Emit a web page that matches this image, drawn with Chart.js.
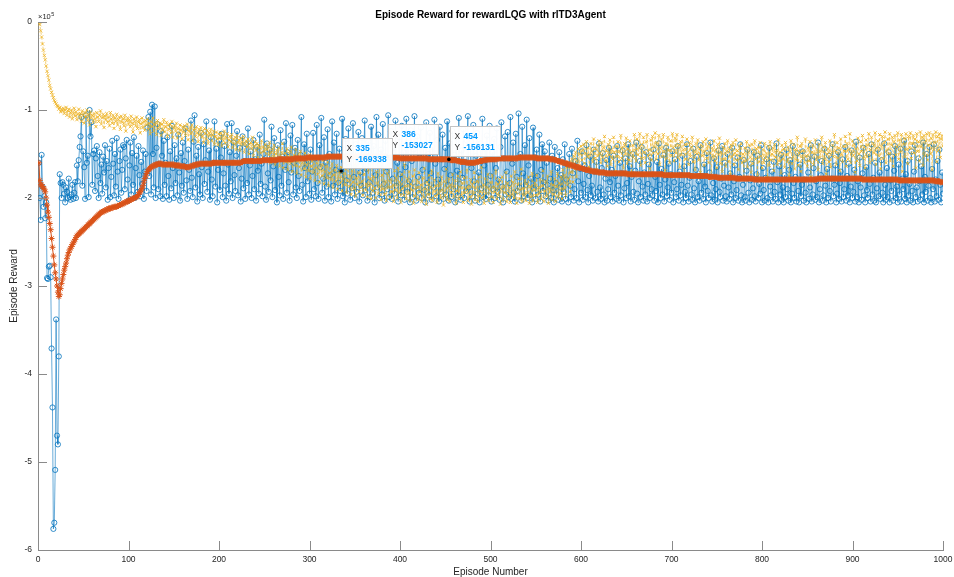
<!DOCTYPE html>
<html><head><meta charset="utf-8">
<script src="https://cdn.jsdelivr.net/npm/chart.js@4.4.1/dist/chart.umd.min.js"></script>
<style>html,body{margin:0;padding:0;background:#fff;overflow:hidden}canvas{display:block}</style>
</head><body>
<canvas id="c" width="954" height="577"></canvas>
<script>
// ---- data (values in thousands; episode i+1 at index i) ----
const SCALE = 1000;
const episodeRewardK = [
-160,-200,-225,-151,-187,-210,-198,-223,-205,-291,-292,-278,-277,-290,-371,-438,-576,-569,-509,-338,
-470,-480,-380,-173,-183,-200,-182,-185,-195,-205,-188,-193,-200,-178,-199,-202,-196,-185,-201,-194,
-182,-200,-163,-181,-157,-142,-130,-108,-186,-147,-165,-201,-106,-160,-152,-199,-100,-130,-114,-185,
-150,-146,-192,-155,-141,-175,-200,-148,-183,-162,-195,-153,-171,-140,-188,-158,-202,-166,-144,-199,
-176,-135,-161,-197,-150,-187,-132,-170,-201,-158,-145,-194,-168,-140,-142,-190,-155,-134,-179,-203,
-163,-137,-196,-149,-185,-131,-200,-166,-152,-193,-141,-174,-198,-159,-184,-146,-201,-170,-150,-192,
-120,-108,-175,-102,-196,-94,-150,-188,-96,-200,-143,-116,-190,-161,-198,-124,-152,-201,-135,-185,
-160,-198,-131,-175,-202,-147,-189,-118,-166,-200,-140,-183,-155,-197,-128,-171,-203,-149,-186,-137,
-194,-158,-121,-180,-201,-145,-168,-192,-112,-177,-199,-136,-106,-188,-152,-204,-142,-173,-196,-126,
-165,-200,-139,-184,-157,-113,-193,-170,-146,-202,-131,-179,-198,-160,-113,-187,-144,-205,-168,-135,
-191,-154,-127,-199,-172,-141,-186,-203,-116,-162,-195,-148,-181,-115,-200,-137,-174,-192,-152,-124,
-197,-166,-143,-204,-178,-130,-189,-158,-201,-139,-183,-121,-196,-163,-147,-200,-175,-134,-190,-156,
-203,-142,-169,-195,-128,-184,-161,-198,-150,-111,-187,-202,-138,-172,-193,-145,-180,-119,-199,-164,
-132,-191,-157,-205,-140,-176,-197,-123,-186,-153,-201,-136,-168,-115,-194,-148,-182,-203,-129,-171,
-117,-196,-160,-143,-188,-200,-134,-175,-192,-151,-108,-185,-204,-139,-166,-199,-127,-181,-158,-195,
-145,-202,-170,-126,-190,-155,-198,-117,-183,-201,-140,-165,-109,-194,-178,-131,-203,-160,-187,-122,
-199,-150,-174,-204,-113,-186,-137,-196,-168,-127,-201,-183,-144,-192,-169.338,-110,-198,-158,-205,-133,
-180,-195,-121,-164,-202,-147,-189,-115,-176,-200,-139,-193,-155,-125,-204,-171,-186,-132,-197,-149,
-112,-191,-167,-203,-136,-182,-199,-119,-157,-194,-141,-205,-174,-108,-188,-128,-200,-162,-145,-196,
-116,-184,-203,-135,-170,-190,-106,-199,-152,-124,-201,-178,-143,-195,-112,-186,-160,-204,-131,-173,
-197,-118,-189,-148,-202,-165,-110,-193,-137,-181,-205,-123,-158,-199,-145,-107,-187,-203,-130,-176,
-194,-154,-120,-200,-168,-139,-191,-205,-114,-183,-150,-197,-126,-172,-202,-142,-188,-111,-161,-198,
-134,-179,-204,-119,-193,-156,-128,-201,-167,-143,-196,-113,-185,-203,-138,-174,-199,-124,-190,-151,
-205,-131,-169,-197,-109,-184,-202,-146,-177,-122,-200,-159,-192,-135,-107,-188,-204,-141,-166,-198,
-117,-181,-203,-152,-126,-195,-171,-205,-138,-189,-110,-199,-163,-144,-201,-129,-185,-197,-118,-175,
-204,-148,-190,-133,-200,-166,-121,-193,-179,-202,-142,-114,-187,-205,-155,-130,-196,-170,-125,-199,
-183,-108,-201,-161,-137,-194,-204,-127,-176,-192,-104,-188,-150,-203,-119,-172,-198,-140,-185,-111,
-200,-163,-132,-197,-178,-205,-120,-189,-154,-201,-145,-175,-196,-128,-204,-168,-139,-192,-182,-147,
-198,-160,-185,-203,-137,-178,-200,-152,-191,-205,-142,-183,-196,-166,-202,-148,-188,-174,-204,-156,
-193,-139,-201,-179,-162,-205,-150,-186,-199,-144,-172,-203,-190,-158,-200,-135,-181,-205,-167,-194,
-147,-202,-184,-163,-199,-140,-191,-205,-175,-153,-197,-186,-203,-145,-170,-200,-159,-193,-204,-138,
-188,-201,-166,-149,-196,-205,-178,-157,-203,-190,-143,-182,-199,-168,-204,-152,-194,-175,-201,-141,
-186,-203,-160,-197,-172,-146,-205,-189,-155,-200,-183,-139,-198,-164,-204,-176,-150,-193,-202,-169,
-137,-195,-205,-181,-158,-199,-142,-187,-203,-171,-196,-148,-204,-184,-162,-200,-154,-190,-197,-145,
-203,-176,-192,-159,-205,-138,-185,-200,-167,-196,-151,-204,-179,-143,-198,-188,-161,-202,-173,-194,
-147,-205,-182,-156,-199,-190,-141,-203,-170,-197,-185,-152,-205,-164,-193,-200,-139,-186,-204,-177,
-158,-196,-202,-144,-189,-205,-168,-153,-199,-181,-203,-140,-194,-175,-201,-162,-187,-205,-149,-192,
-200,-171,-137,-197,-204,-183,-155,-202,-190,-165,-205,-146,-193,-199,-178,-141,-203,-186,-160,-198,
-204,-150,-188,-201,-172,-196,-143,-205,-181,-163,-200,-191,-154,-203,-176,-139,-197,-205,-185,-157,
-199,-203,-169,-145,-194,-205,-180,-161,-202,-189,-148,-198,-204,-173,-152,-200,-184,-195,-140,-205,
-166,-191,-203,-177,-156,-200,-205,-143,-187,-197,-170,-204,-159,-193,-201,-138,-182,-205,-164,-196,
-151,-202,-188,-205,-174,-199,-145,-190,-203,-168,-157,-205,-195,-141,-183,-200,-176,-204,-149,-192,
-205,-162,-198,-185,-147,-203,-179,-194,-205,-155,-171,-201,-188,-140,-204,-196,-166,-153,-202,-181,
-199,-137,-205,-190,-174,-158,-203,-197,-144,-186,-205,-167,-200,-152,-192,-204,-178,-139,-198,-185,
-163,-205,-195,-148,-201,-183,-170,-204,-156,-199,-190,-142,-203,-175,-197,-161,-205,-187,-146,-200,
-193,-168,-204,-136,-199,-181,-205,-154,-188,-202,-172,-143,-197,-205,-165,-191,-200,-150,-184,-204,
-139,-196,-177,-203,-160,-205,-189,-145,-198,-171,-201,-157,-194,-205,-138,-185,-202,-166,-199,-148,
-205,-180,-192,-153,-203,-169,-141,-200,-187,-205,-162,-196,-144,-204,-178,-190,-135,-201,-173,-205,
-158,-197,-184,-203,-147,-192,-205,-170,-140,-199,-188,-204,-155,-181,-202,-164,-196,-137,-205,-176,
-193,-150,-203,-186,-142,-200,-205,-167,-190,-139,-204,-179,-198,-158,-202,-145,-185,-205,-171,-195
];
const averageRewardK = [
-160,-180,-185,-185,-187,-189,-190,-193,-200,-208,-216,-222,-229,-236,-246,-256,-266,-276,-285,-292,
-300,-307,-312,-310,-303,-297,-292,-287,-282,-278,-274,-269,-265,-262,-259,-257,-255,-253,-251,-249,
-247,-245,-243,-242,-241,-240,-239,-238,-237,-236,-235,-234,-233,-232,-231,-230,-229,-228,-227,-226,
-225,-224,-223,-222,-221,-220,-219,-218,-217,-216,-216,-215,-215,-214,-214,-213,-213,-212,-212,-212,
-211,-211,-211,-210,-210,-210,-210,-209,-209,-208,-208,-207,-207,-206,-206,-205,-205,-204,-204,-203,
-203,-202,-202,-201,-201,-200,-200,-199,-199,-198,-196,-194,-193,-191,-189,-186,-182,-178,-175,-172,
-170,-168,-167,-166,-165,-164,-164,-163,-163,-162,-162,-162,-161,-161,-161,-161,-162,-162,-162,-162,
-162,-162,-162,-162,-162,-162,-162,-162,-162,-162,-163,-163,-163,-163,-163,-163,-164,-164,-164,-164,
-164,-164,-165,-165,-165,-165,-165,-164,-164,-164,-163,-163,-163,-162,-162,-162,-162,-161,-161,-161,
-161,-161,-161,-161,-161,-161,-161,-161,-161,-161,-161,-161,-160,-160,-160,-160,-160,-160,-160,-160,
-160,-160,-160,-160,-160,-160,-160,-160,-160,-160,-160,-160,-160,-160,-160,-160,-160,-160,-160,-160,
-160,-160,-160,-160,-159,-159,-158,-158,-158,-158,-158,-158,-158,-158,-158,-158,-158,-158,-158,-158,
-158,-158,-158,-158,-158,-158,-158,-157,-157,-157,-157,-157,-157,-157,-157,-157,-157,-157,-157,-157,
-157,-157,-157,-157,-156,-156,-156,-156,-156,-156,-156,-156,-156,-156,-156,-156,-156,-156,-156,-156,
-156,-156,-155,-155,-155,-155,-155,-155,-155,-155,-155,-155,-155,-155,-155,-155,-154,-154,-154,-154,
-154,-154,-154,-154,-154,-154,-154,-154,-154,-154,-154,-154,-154,-154,-154,-154,-154,-154,-153,-153,
-153,-153,-153,-153,-153,-153,-153,-153,-153,-153,-153,-153,-153,-153,-153,-153,-153,-153,-153,-153,
-153,-153,-153,-153,-153,-153,-153,-153,-153,-153,-153,-153,-153,-153,-153,-153,-153,-153,-153,-153,
-153,-153,-153,-153,-153,-153,-153,-153,-153,-153,-153,-153,-153,-153,-153,-153,-153,-153,-153,-153,
-153,-153,-153,-153,-153,-153.027,-153,-153,-154,-154,-154,-154,-154,-154,-154,-154,-154,-154,-155,-155,
-155,-155,-155,-155,-155,-155,-155,-155,-155,-155,-155,-155,-155,-155,-155,-155,-155,-155,-155,-155,
-155,-155,-155,-155,-155,-155,-155,-155,-155,-155,-156,-156,-156,-156,-156,-156,-156,-156,-156,-156,
-156,-156,-156,-156,-156,-156,-156,-156,-156,-156,-156,-156,-156,-156.131,-156,-157,-157,-157,-157,-157,
-157,-157,-158,-158,-158,-158,-159,-159,-159,-159,-159,-159,-160,-160,-160,-160,-160,-160,-160,-160,
-160,-160,-160,-159,-159,-159,-159,-158,-158,-158,-158,-157,-157,-157,-157,-157,-156,-156,-156,-156,
-156,-156,-156,-156,-156,-156,-156,-155,-155,-155,-155,-155,-155,-155,-155,-155,-155,-155,-155,-155,
-155,-155,-155,-155,-155,-155,-155,-155,-155,-155,-154,-154,-154,-154,-154,-154,-154,-154,-154,-154,
-154,-154,-154,-154,-154,-154,-154,-154,-154,-154,-155,-155,-155,-155,-155,-155,-155,-155,-155,-155,
-155,-155,-155,-155,-155,-156,-156,-156,-156,-156,-157,-157,-157,-158,-158,-158,-159,-159,-159,-160,
-160,-160,-161,-161,-161,-162,-162,-162,-163,-163,-163,-164,-164,-164,-165,-165,-165,-166,-166,-166,
-166,-167,-167,-167,-168,-168,-168,-168,-169,-169,-169,-169,-170,-170,-170,-170,-170,-170,-171,-171,
-171,-171,-171,-171,-171,-171,-172,-172,-172,-172,-172,-172,-172,-172,-172,-172,-172,-172,-172,-172,
-172,-172,-172,-172,-172,-172,-172,-172,-172,-172,-173,-173,-173,-173,-173,-173,-173,-173,-173,-173,
-173,-173,-173,-173,-173,-173,-173,-173,-173,-173,-173,-173,-173,-173,-173,-173,-173,-173,-173,-173,
-173,-173,-173,-173,-173,-173,-173,-173,-173,-173,-174,-174,-174,-174,-174,-174,-174,-174,-174,-174,
-174,-174,-174,-174,-174,-174,-174,-174,-174,-174,-174,-174,-174,-174,-174,-174,-174,-174,-174,-174,
-175,-175,-175,-175,-175,-175,-175,-175,-175,-175,-175,-175,-175,-175,-175,-175,-175,-175,-175,-175,
-176,-176,-176,-176,-176,-176,-176,-176,-176,-176,-177,-177,-177,-177,-177,-177,-177,-177,-177,-177,
-177,-177,-177,-177,-177,-177,-177,-177,-177,-177,-178,-178,-178,-178,-178,-178,-178,-178,-178,-178,
-178,-178,-178,-178,-178,-178,-178,-178,-178,-178,-179,-179,-179,-179,-179,-179,-179,-179,-179,-179,
-179,-179,-179,-179,-179,-179,-179,-179,-179,-179,-179,-179,-179,-179,-179,-179,-179,-179,-179,-179,
-179,-179,-179,-179,-179,-179,-179,-179,-179,-179,-179,-179,-179,-179,-179,-179,-179,-179,-179,-179,
-179,-179,-179,-179,-179,-179,-179,-179,-179,-179,-179,-179,-179,-179,-179,-179,-179,-179,-179,-179,
-178,-178,-178,-178,-178,-178,-178,-178,-178,-178,-178,-178,-178,-178,-178,-178,-178,-178,-178,-178,
-178,-178,-178,-178,-178,-178,-178,-178,-178,-178,-178,-178,-178,-178,-178,-178,-178,-178,-178,-178,
-178,-178,-178,-178,-178,-178,-178,-178,-178,-178,-179,-179,-179,-179,-179,-179,-179,-179,-179,-179,
-179,-179,-179,-179,-179,-179,-179,-179,-179,-179,-179,-179,-179,-179,-179,-179,-179,-179,-179,-179,
-179,-179,-179,-179,-179,-179,-179,-179,-179,-179,-180,-180,-180,-180,-180,-180,-180,-180,-180,-180,
-180,-180,-180,-180,-180,-180,-180,-180,-180,-180,-180,-180,-180,-180,-180,-180,-180,-180,-180,-180,
-180,-180,-180,-180,-180,-180,-180,-180,-180,-180,-181,-181,-181,-181,-181,-181,-182,-182,-182,-182
];
const episodeQ0K = [
0,-3,-10,-17,-25,-32,-38,-43,-50,-56,-61,-66,-72,-76,-80,-83,-86,-89,-91,-93,
-95,-96,-99,-97,-102,-99,-101,-98,-104,-100,-97,-106,-101,-99,-108,-103,-100,-110,-104,-98,
-107,-102,-111,-105,-99,-109,-104,-113,-101,-106,-115,-103,-108,-100,-112,-105,-117,-102,-109,-106,
-114,-104,-110,-119,-103,-108,-113,-106,-101,-116,-109,-105,-120,-107,-111,-104,-114,-108,-118,-103,
-110,-115,-106,-121,-109,-113,-105,-117,-111,-108,-122,-107,-114,-110,-118,-106,-124,-112,-109,-116,
-111,-119,-107,-115,-125,-110,-113,-118,-108,-121,-114,-111,-126,-116,-109,-120,-113,-123,-112,-117,
-110,-122,-115,-127,-113,-119,-109,-124,-117,-114,-128,-112,-121,-118,-115,-129,-116,-123,-111,-125,
-119,-114,-130,-117,-122,-116,-126,-113,-131,-120,-118,-124,-115,-132,-121,-127,-117,-123,-133,-119,
-125,-118,-129,-122,-116,-134,-124,-120,-127,-117,-135,-123,-121,-130,-119,-126,-136,-122,-128,-120,
-131,-124,-137,-121,-127,-133,-123,-138,-126,-129,-122,-135,-128,-124,-139,-130,-125,-133,-140,-127,
-132,-126,-141,-129,-135,-124,-138,-131,-127,-142,-134,-130,-136,-128,-143,-133,-139,-131,-145,-129,
-137,-134,-146,-132,-140,-136,-130,-148,-138,-135,-142,-133,-150,-139,-137,-144,-131,-152,-141,-136,
-146,-138,-154,-140,-143,-149,-135,-156,-142,-147,-139,-158,-145,-141,-151,-137,-160,-148,-144,-153,
-140,-162,-150,-146,-157,-143,-164,-152,-148,-138,-166,-155,-149,-159,-144,-168,-153,-147,-161,-142,
-170,-156,-151,-163,-145,-172,-158,-150,-165,-147,-174,-160,-154,-167,-149,-176,-162,-156,-169,-151,
-178,-164,-158,-171,-153,-180,-166,-160,-173,-155,-182,-168,-162,-175,-157,-184,-170,-164,-177,-159,
-186,-172,-166,-179,-161,-188,-174,-168,-181,-163,-190,-176,-170,-183,-165,-192,-178,-172,-185,-167,
-194,-180,-158,-187,-175,-196,-169,-182,-190,-162,-198,-177,-185,-171,-193,-160,-188,-181,-197,-173,
-165,-191,-184,-199,-168,-186,-178,-201,-163,-192,-176,-189,-200,-170,-183,-195,-161,-187,-202,-174,
-190,-167,-196,-181,-203,-172,-188,-164,-199,-179,-193,-185,-204,-169,-191,-177,-200,-166,-194,-182,
-205,-173,-189,-197,-162,-186,-201,-178,-195,-170,-203,-184,-191,-175,-206,-168,-198,-188,-180,-202,
-171,-193,-185,-204,-177,-199,-166,-190,-207,-182,-196,-174,-201,-187,-169,-203,-192,-179,-198,-186,
-205,-172,-195,-183,-200,-176,-191,-208,-181,-197,-167,-202,-189,-178,-204,-185,-194,-173,-199,-187,
-180,-206,-192,-175,-201,-188,-170,-197,-183,-205,-177,-194,-190,-168,-203,-186,-199,-179,-207,-184,
-196,-171,-202,-189,-181,-204,-176,-198,-193,-165,-200,-185,-206,-178,-195,-188,-173,-203,-191,-182,
-199,-174,-205,-187,-193,-169,-201,-184,-197,-179,-207,-190,-176,-202,-186,-194,-171,-204,-183,-198,
-188,-205,-175,-196,-182,-200,-170,-193,-206,-185,-178,-201,-191,-167,-204,-189,-197,-180,-203,-184,
-194,-176,-206,-187,-199,-172,-203,-190,-183,-197,-174,-205,-188,-195,-179,-201,-186,-169,-204,-192,
-181,-198,-175,-206,-189,-193,-170,-202,-185,-196,-178,-204,-187,-172,-199,-183,-195,-176,-201,-168,
-190,-174,-197,-165,-185,-179,-160,-193,-171,-156,-182,-152,-167,-148,-176,-158,-144,-163,-150,-141,
-157,-146,-139,-161,-149,-136,-153,-143,-165,-151,-138,-147,-159,-133,-155,-144,-168,-140,-152,-135,
-149,-160,-137,-154,-143,-130,-158,-146,-164,-139,-151,-134,-162,-145,-156,-131,-148,-170,-141,-153,
-136,-159,-147,-129,-155,-142,-166,-138,-150,-132,-161,-144,-157,-135,-149,-172,-140,-154,-128,-146,
-158,-133,-151,-143,-127,-163,-139,-155,-131,-148,-160,-136,-128,-152,-145,-167,-134,-157,-130,-149,
-141,-126,-156,-137,-150,-129,-162,-144,-133,-153,-128,-147,-169,-138,-155,-131,-146,-160,-135,-152,
-127,-143,-158,-132,-149,-128,-154,-140,-165,-136,-151,-130,-145,-174,-139,-156,-133,-148,-162,-137,
-153,-142,-131,-159,-146,-168,-138,-150,-134,-157,-144,-171,-140,-152,-136,-163,-147,-133,-155,-141,
-160,-137,-149,-176,-143,-154,-135,-158,-145,-166,-139,-151,-132,-161,-148,-170,-142,-156,-138,-164,
-147,-135,-159,-144,-173,-140,-153,-137,-162,-149,-134,-157,-146,-168,-141,-155,-138,-160,-150,-178,
-143,-158,-136,-165,-148,-140,-154,-171,-139,-161,-147,-135,-156,-144,-174,-142,-159,-137,-152,-166,
-145,-160,-138,-155,-149,-177,-141,-163,-136,-157,-150,-143,-169,-139,-154,-146,-162,-134,-158,-148,
-172,-140,-156,-144,-165,-137,-151,-159,-142,-175,-147,-135,-161,-153,-139,-167,-145,-157,-131,-163,
-149,-141,-170,-138,-155,-146,-160,-133,-152,-164,-143,-158,-136,-176,-148,-140,-162,-150,-134,-157,
-145,-168,-139,-154,-147,-131,-161,-142,-156,-137,-173,-150,-144,-159,-135,-165,-148,-140,-153,-128,
-146,-162,-137,-155,-143,-169,-133,-151,-159,-141,-147,-130,-164,-138,-156,-145,-127,-160,-149,-135,
-152,-139,-171,-144,-158,-132,-150,-163,-136,-147,-129,-155,-142,-166,-134,-153,-140,-127,-160,-145,
-131,-157,-138,-149,-126,-162,-143,-135,-152,-128,-167,-141,-130,-155,-137,-125,-160,-146,-133,-150,
-127,-158,-140,-131,-164,-136,-129,-151,-142,-126,-156,-134,-148,-128,-170,-139,-132,-153,-127,-145,
-161,-130,-143,-126,-155,-138,-129,-149,-133,-166,-127,-147,-136,-158,-125,-142,-131,-163,-129,-152,
-135,-127,-157,-140,-126,-150,-132,-168,-128,-145,-137,-125,-159,-130,-146,-127,-154,-133,-129,-141
];
const xTickValues = [0,100,200,300,400,500,600,700,800,900,1000];
const yTickValues = [0,-1,-2,-3,-4,-5,-6];          // shown with ×10^5
const yExponent = 5;
const tipEpisodes = [335,386,454];
const tipSeries = ['reward','average','average'];
const titleText = 'Episode Reward for rewardLQG with rlTD3Agent';
const xLabel = 'Episode Number';
const yLabel = 'Episode Reward';

// ---- build ----
const FONT = "'Liberation Sans', Arial, Helvetica, sans-serif";
const AXIS = '#8a8a8a';
const TXT = '#262626';
const EXP = Math.pow(10, yExponent);
const episodes = episodeRewardK.map((_, i) => i + 1);
const toPts = arr => arr.map((v, i) => ({x: episodes[i], y: v * SCALE}));
const seriesMap = {reward: episodeRewardK, average: averageRewardK, q0: episodeQ0K};

const decor = {
  id: 'decor',
  afterDraw(chart) {
    const {ctx, chartArea: a, scales: {x, y}} = chart;
    ctx.save();
    // inward tick marks
    ctx.strokeStyle = AXIS; ctx.lineWidth = 1;
    ctx.beginPath();
    x.ticks.forEach(t => { const px = Math.round(x.getPixelForValue(t.value)) + 0.5; ctx.moveTo(px, a.bottom); ctx.lineTo(px, a.bottom - 9); });
    y.ticks.forEach(t => { const py = Math.round(y.getPixelForValue(t.value)) + 0.5; ctx.moveTo(a.left, py); ctx.lineTo(a.left + 9, py); });
    ctx.stroke();
    // exponent label
    ctx.fillStyle = TXT; ctx.textBaseline = 'middle'; ctx.textAlign = 'left';
    ctx.font = '7.5px ' + FONT;
    ctx.fillText('\u00d710', a.left, a.top - 5);
    const w = ctx.measureText('\u00d710').width;
    ctx.font = '5.5px ' + FONT;
    ctx.fillText(String(yExponent), a.left + w + 0.5, a.top - 8);
    // data tips (last one drawn first so earlier tips sit on top)
    for (let k = tipEpisodes.length - 1; k >= 0; k--) {
      const ep = tipEpisodes[k];
      const v = seriesMap[tipSeries[k]][ep - 1] * SCALE;
      const px = x.getPixelForValue(ep), py = y.getPixelForValue(v);
      const bx = Math.round(px) + 1.5, by = Math.round(py) - 32.5, bw = 50, bh = 30;
      ctx.fillStyle = 'rgba(255,255,255,0.97)';
      ctx.fillRect(bx, by, bw, bh);
      ctx.strokeStyle = '#c4c4c4'; ctx.lineWidth = 1;
      ctx.strokeRect(bx, by, bw, bh);
      ctx.textBaseline = 'middle'; ctx.textAlign = 'left';
      ctx.font = '8.5px ' + FONT; ctx.fillStyle = '#333';
      ctx.fillText('X', bx + 4, by + 10);
      ctx.fillText('Y', bx + 4, by + 21.5);
      ctx.font = 'bold 8.5px ' + FONT; ctx.fillStyle = '#0099ff';
      ctx.fillText(String(ep), bx + 13, by + 10);
      ctx.fillText(String(Math.round(v)), bx + 13, by + 21.5);
      ctx.fillStyle = '#000';
      ctx.beginPath(); ctx.arc(px, py, 1.8, 0, Math.PI * 2); ctx.fill();
    }
    ctx.restore();
  }
};

new Chart(document.getElementById('c'), {
  type: 'line',
  data: {
    datasets: [
      {label: 'Average Reward', data: toPts(averageRewardK), order: 0,
       borderColor: '#D95319', borderWidth: 1, pointStyle: 'star', pointRadius: 3,
       pointBorderWidth: 1, pointBorderColor: '#D95319', pointBackgroundColor: '#D95319'},
      {label: 'Episode Q0', data: toPts(episodeQ0K), order: 1,
       borderColor: '#EDB120', borderWidth: 0.6, borderDash: [3, 2], pointStyle: 'crossRot', pointRadius: 2.3,
       pointBorderWidth: 0.8, pointBorderColor: '#EDB120', pointBackgroundColor: '#EDB120'},
      {label: 'Episode Reward', data: toPts(episodeRewardK), order: 2,
       borderColor: '#0072BD', borderWidth: 0.6, pointStyle: 'circle', pointRadius: 2.6,
       pointBorderWidth: 0.8, pointBorderColor: '#0072BD', pointBackgroundColor: 'rgba(0,0,0,0)'}
    ]
  },
  options: {
    responsive: false, animation: false, devicePixelRatio: 1,
    layout: {padding: {left: 0, right: 11, top: 0, bottom: 0}},
    elements: {line: {tension: 0}},
    plugins: {
      legend: {display: false}, tooltip: {enabled: false},
      title: {display: true, text: titleText, fullSize: false, color: '#000',
              font: {family: FONT, size: 10, weight: 'bold', lineHeight: 1.2}, padding: {top: 9, bottom: 1}}
    },
    scales: {
      x: {type: 'linear', min: 0, max: 1000,
          grid: {display: false, drawTicks: false}, border: {display: true, color: AXIS, width: 1},
          afterFit: s => { s.height = 27; s.paddingLeft = 0; s.paddingRight = 0; },
          afterBuildTicks: s => { s.ticks = xTickValues.map(v => ({value: v})); },
          ticks: {color: TXT, font: {family: FONT, size: 8.5}, padding: 5, maxRotation: 0, autoSkip: false,
                  callback: v => String(v)},
          title: {display: true, text: xLabel, color: TXT, font: {family: FONT, size: 10, lineHeight: 1}, padding: {top: 0, bottom: 0}}},
      y: {type: 'linear', min: yTickValues[yTickValues.length - 1] * EXP, max: yTickValues[0] * EXP,
          grid: {display: false, drawTicks: false}, border: {display: true, color: AXIS, width: 1},
          afterFit: s => { s.width = 38; },
          afterBuildTicks: s => { s.ticks = yTickValues.map(v => ({value: v * EXP})); },
          ticks: {color: TXT, font: {family: FONT, size: 8.5}, padding: 6, autoSkip: false,
                  callback: v => String(Math.round(v / EXP))},
          title: {display: true, text: yLabel, color: TXT, font: {family: FONT, size: 10, lineHeight: 1.2}, padding: {top: 8, bottom: 0}}}
    }
  },
  plugins: [decor]
});
</script>
</body></html>
